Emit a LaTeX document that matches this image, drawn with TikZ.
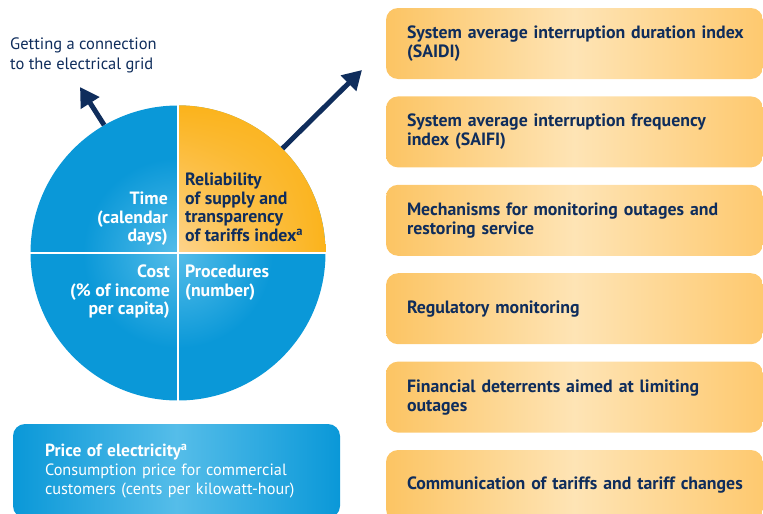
\documentclass[tikz,border=0pt]{standalone}
\usepackage{fontspec}
\setmainfont{PT Sans}
\usetikzlibrary{arrows.meta,positioning,shadings}
\definecolor{navy}{HTML}{0F2D5C}
\definecolor{pieblue}{HTML}{0A98D8}
\definecolor{pielight}{HTML}{55BDE9}
\definecolor{pieorange}{HTML}{FBB31B}
\definecolor{orangelight}{HTML}{FDD48E}
\definecolor{optleft}{HTML}{FCC463}
\definecolor{optmid}{HTML}{FEE4B5}
\definecolor{optright}{HTML}{FEC96F}

\begin{document}
\begin{tikzpicture}[
  x=1pt, y=1pt,
  node distance=17pt,
  optbox/.style={rectangle, rounded corners=12pt, minimum width=377pt, minimum height=71pt,
    text width=335pt, inner xsep=21pt, align=left, text=navy,
    font=\bfseries\fontsize{17.8}{19}\selectfont,
    left color=optleft, right color=optright, middle color=optmid},
  pricebox/.style={rectangle, rounded corners=12pt, minimum width=327pt, minimum height=94pt,
    text width=263pt, inner xsep=32pt, align=left, text=white,
    font=\fontsize{16.3}{19}\selectfont,
    left color=pieblue, right color=pieblue, middle color=pielight},
  quadtext/.style={inner sep=0pt, font=\bfseries\fontsize{17.8}{18.5}\selectfont},
  arrow/.style={-{Triangle[length=19pt,width=21pt]}, line width=5pt, navy}
]
\useasboundingbox (0,0) rectangle (763,-514);

% Pie
\node[circle, minimum size=295pt, inner sep=0pt] (pie) at (178,-253) {};
\fill[pieblue] (pie.center) circle[radius=147.5pt];
\shade[inner color=pielight, outer color=pieblue] (pie.center) circle[radius=95pt];
\shade[upper left=pieorange, upper right=pieorange, lower right=pieorange, lower left=orangelight]
  (pie.center) -- (pie.north) arc[start angle=90, end angle=0, radius=147.5pt] -- cycle;
\draw[white, line width=2pt] (pie.north) -- (pie.south) (pie.west) -- (pie.east);

% Quadrant labels
\node[quadtext, anchor=north east, align=right, text=white] (time) at (168,-192) {Time\\(calendar\\days)};
\node[quadtext, anchor=north west, align=left, text=navy] (reliab) at (185,-173) {Reliability\\of supply and\\transparency\\of tariffs index\textsuperscript{a}};
\node[quadtext, anchor=north east, align=right, text=white] (cost) at (170,-265) {Cost\\(\% of income\\per capita)};
\node[quadtext, anchor=north west, align=left, text=white] (proc) at (185,-265) {Procedures\\(number)};

% Arrows out of the pie
\node[anchor=north west, inner sep=0pt, align=left, text=navy, font=\fontsize{16.5}{19.5}\selectfont] (gridlabel) at (10,-38) {Getting a connection\\to the electrical grid};
\coordinate (gridtip) at (80,-87);
\coordinate (reltip) at (362,-70);
\draw[arrow] (pie.120) -- (gridtip);
\draw[arrow] (pie.45) -- (reltip);

% Price box
\node[pricebox] (price) at (176.5,-471) {{\bfseries\fontsize{17.5}{19}\selectfont Price of electricity\textsuperscript{a}}\\Consumption price for commercial\\customers (cents per kilowatt-hour)};

% Reliability components
\node[optbox] (saidi) at (574.5,-43.5) {\mbox{System average interruption duration index}\\(SAIDI)};
\node[optbox, below=of saidi] (saifi) {System average interruption frequency\\index (SAIFI)};
\node[optbox, below=of saifi] (outages) {Mechanisms for monitoring outages and\\restoring service};
\node[optbox, below=of outages] (regmon) {Regulatory monitoring};
\node[optbox, below=of regmon] (deter) {Financial deterrents aimed at limiting\\outages};
\node[optbox, below=of deter] (tariffs) {\mbox{Communication of tariffs and tariff changes}};

\end{tikzpicture}
\end{document}
